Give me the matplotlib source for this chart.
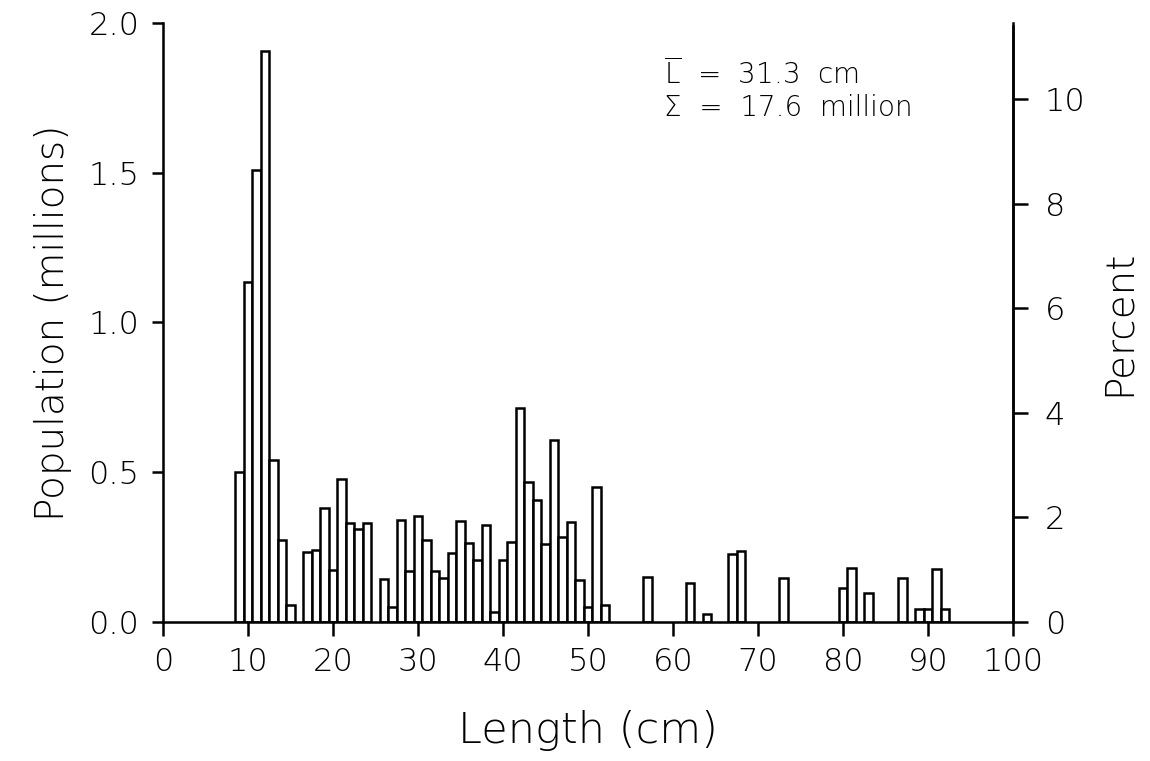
import numpy as np
import matplotlib
matplotlib.use("Agg")
import matplotlib.pyplot as plt

# length classes (cm) and estimated population (millions)
lengths = [9, 10, 11, 12, 13, 14, 15, 17, 18, 19, 20, 21, 22, 23, 24, 26, 27, 28, 29, 30,
           31, 32, 33, 34, 35, 36, 37, 38, 39, 40, 41, 42, 43, 44, 45, 46, 47, 48, 49, 50,
           51, 52, 57, 62, 64, 67, 68, 73, 80, 81, 83, 87, 89, 90, 91, 92]
population = [0.50, 1.135, 1.51, 1.905, 0.54, 0.275, 0.055, 0.233, 0.24, 0.38, 0.172, 0.477,
              0.332, 0.312, 0.329, 0.143, 0.051, 0.34, 0.171, 0.354, 0.273, 0.171, 0.146, 0.229,
              0.336, 0.264, 0.206, 0.324, 0.034, 0.207, 0.268, 0.714, 0.468, 0.407, 0.26, 0.606,
              0.284, 0.333, 0.14, 0.051, 0.451, 0.057, 0.149, 0.131, 0.028, 0.227, 0.236, 0.148,
              0.113, 0.18, 0.096, 0.148, 0.044, 0.044, 0.176, 0.044]

mean_label = r"$\overline{\mathrm{L}}$  =  31.3  cm"
sum_label = "Σ  =  17.6  million"

plt.rcParams['font.family'] = ['DejaVu Sans']
plt.rcParams['font.weight'] = 'light'
plt.rcParams['mathtext.fontset'] = 'dejavusans'

fig = plt.figure(figsize=(11.5, 7.61), dpi=100)
ax = fig.add_axes([0.1417, 0.1827, 0.7391, 0.7871])

ax.bar(lengths, population, width=1.0, color='white', edgecolor='black', linewidth=1.8)
ax.set_xlim(0, 100)
ax.set_ylim(0, 2.0)
ax.set_xticks(np.arange(0, 101, 10))
ax.set_yticks([0.0, 0.5, 1.0, 1.5, 2.0])
ax.set_yticklabels(["0.0", "0.5", "1.0", "1.5", "2.0"])
ax.tick_params(axis='both', labelsize=23, width=1.8, direction='out')
ax.tick_params(axis='y', length=8, pad=9)
ax.tick_params(axis='x', length=10, pad=8)
ax.spines['top'].set_visible(False)
for s in ['left', 'bottom', 'right']:
    ax.spines[s].set_linewidth(1.8)
ax.set_xlabel("Length (cm)", fontsize=31, labelpad=24, fontweight='light')
ax.set_ylabel("Population (millions)", fontsize=28, labelpad=12, fontweight='light')

# percent axis, scaled by the total population
total = sum(population)
ax2 = ax.twinx()
ax2.set_ylim(0, 2.0 / total * 100)
ax2.set_yticks([0, 2, 4, 6, 8, 10])
ax2.tick_params(axis='y', labelsize=23, width=1.8, length=11, direction='out', pad=12)
ax2.spines['top'].set_visible(False)
ax2.spines['right'].set_linewidth(1.8)
ax2.spines['right'].set_bounds(0, 11.4)
ax2.set_ylabel("Percent", fontsize=28, labelpad=10, fontweight='light')

ax.text(59, 1.83, mean_label, fontsize=20, va='center', ha='left')
ax.text(59, 1.715, sum_label, fontsize=20, va='center', ha='left')

fig.savefig("out.png", dpi=100)
